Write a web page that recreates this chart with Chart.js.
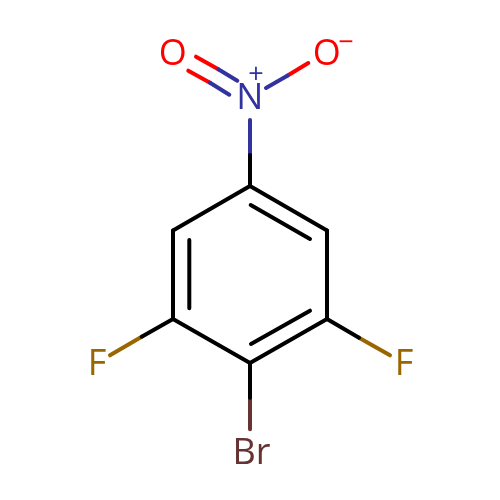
<!DOCTYPE html>
<html>
<head>
<meta charset="utf-8">
<title>Molecule</title>
<script src="https://cdn.jsdelivr.net/npm/chart.js@4"></script>
<style>html,body{margin:0;padding:0;background:#fff}canvas{display:block}</style>
</head>
<body>
<canvas id="c" width="500" height="500"></canvas>
<script>
// In image pixels
const blackX = [
  [250,327],[327,327],[327,250],[250,173],[173,173],[173,250],
  [250.7,310],[189.3,189.3],[251,310],
  [250,250],[250,250],[173,141.7],[327,359]
];
const blackY = [
  [186,230.5],[230.5,319],[319,363],[363,319],[319,230.5],[230.5,186],
  [205,239],[240,308.3],[344,310.7],
  [186,155],[363,397.7],[319,336.7],[319,337.7]
];
const blueX = [[250,250],[218.3,237.3],[210,229.3],[266,287.3]];
const blueY = [[155,120],[69.3,80.7],[82.7,94.7],[88,75.7]];
const redX = [[196,218.3],[188.3,210],[287.3,308.3]];
const redY = [[56.7,69.3],[70.7,82.7],[75.7,63]];
const goldX = [[141.7,110],[359,390]];
const goldY = [[336.7,355.3],[337.7,355.3]];
const brownX = [[250,250]];
const brownY = [[397.7,429.3]];

const atomText = ['O','O','N','F','F','Br','+','\u2212'];
const atomX = [172.7,326.7,249.7,97,404,251.5,256,346];
const atomY = [64.5,64.5,109.3,375,375,464.3,82.7,51.4];
const atomSize = [36,36,36,36,36,36,27,27];
const atomColor = ['#FF0000','#FF0000','#33339F','#996600','#996600','#663333','#33339F','#FF0000'];

function segs(xs, ys, color){
  return xs.map((x,i)=>({
    data: x.map((v,j)=>({x:v,y:ys[i][j]})),
    showLine:true, borderColor:color, borderWidth:4, borderCapStyle:'round',
    pointRadius:0, pointHoverRadius:0, clip:false, tension:0
  }));
}
const atomLabels = {
  id:'atomLabels',
  afterDatasetsDraw(chart){
    const {ctx,scales:{x,y}} = chart;
    ctx.save();
    ctx.textAlign='center'; ctx.textBaseline='alphabetic';
    atomText.forEach((t,i)=>{
      ctx.font = atomSize[i]+'px "Open Sans"';
      ctx.fillStyle = atomColor[i];
      ctx.fillText(t, x.getPixelForValue(atomX[i]), y.getPixelForValue(atomY[i]));
    });
    ctx.restore();
  }
};
new Chart(document.getElementById('c'),{
  type:'scatter',
  data:{datasets:[
    ...segs(blackX,blackY,'#000000'),
    ...segs(blueX,blueY,'#33339F'),
    ...segs(redX,redY,'#FF0000'),
    ...segs(goldX,goldY,'#996600'),
    ...segs(brownX,brownY,'#663333')
  ]},
  options:{
    responsive:false, animation:false, devicePixelRatio:1,
    layout:{padding:0},
    plugins:{legend:{display:false},tooltip:{enabled:false},title:{display:false}},
    scales:{
      x:{type:'linear',min:0,max:500,display:false},
      y:{type:'linear',min:0,max:500,reverse:true,display:false}
    }
  },
  plugins:[atomLabels]
});
</script>
</body>
</html>
